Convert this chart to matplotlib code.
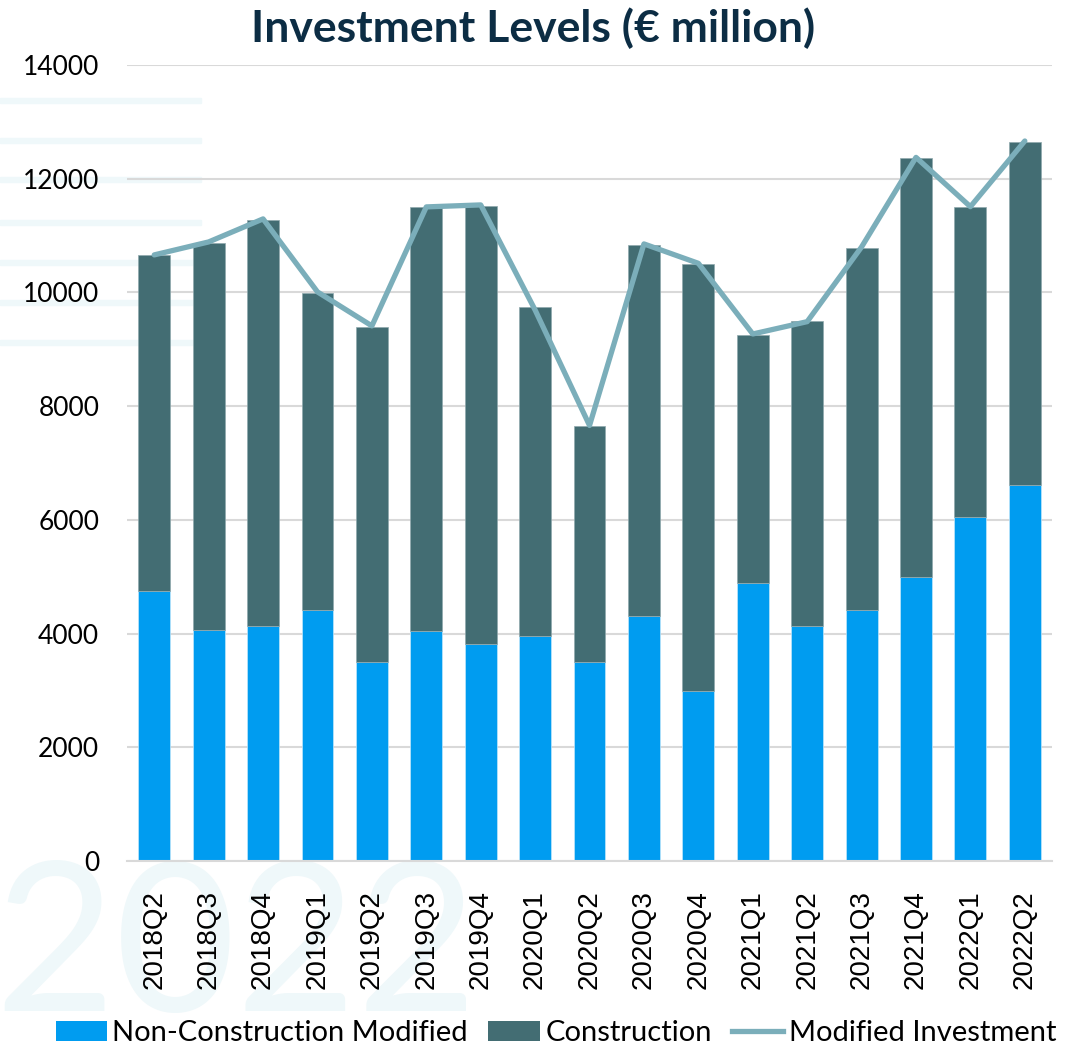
import matplotlib
matplotlib.use("Agg")
import matplotlib.pyplot as plt
from matplotlib.patches import Patch, Rectangle
from matplotlib.lines import Line2D

# Quarterly investment, EUR million
quarters = [
    "2018Q2", "2018Q3", "2018Q4", "2019Q1", "2019Q2", "2019Q3", "2019Q4",
    "2020Q1", "2020Q2", "2020Q3", "2020Q4", "2021Q1", "2021Q2", "2021Q3",
    "2021Q4", "2022Q1", "2022Q2",
]
non_construction = [4746, 4065, 4130, 4417, 3506, 4044, 3814, 3957, 3494,
                    4303, 2990, 4884, 4133, 4415, 4989, 6050, 6613]
construction = [5904, 6805, 7145, 5574, 5887, 7460, 7707, 5782, 4151,
                6537, 7504, 4367, 5359, 6372, 7370, 5447, 6038]
modified_investment = [10660, 10888, 11293, 10009, 9411, 11504, 11539, 9690,
                       7660, 10853, 10512, 9269, 9486, 10800, 12375, 11508, 12663]
y_ticks = [0, 2000, 4000, 6000, 8000, 10000, 12000, 14000]

BLUE = "#009CF0"
TEAL = "#436D73"
LINE = "#7BAEBA"
GRID = "#D9D9D9"
WATERMARK = "#EFF8FA"

fig = plt.figure(figsize=(10.84, 10.48), dpi=100)
fig.patch.set_facecolor("white")

# faint background emblem
for y_px in [100, 140, 179, 222, 262, 302, 342]:
    fig.patches.append(Rectangle((0.0, 1 - (y_px + 2.5) / 1048), 0.185, 5 / 1048,
                                 transform=fig.transFigure, color=WATERMARK,
                                 zorder=-2))
fig.text(-0.005, 0.035, "2022", fontsize=150, family="Lato",
         color=WATERMARK, ha="left", va="baseline", zorder=-2)

ax = fig.add_axes([0.1172, 0.1784, 0.8533, 0.7596])
ax.set_facecolor("none")
ax.set_zorder(1)

x = range(len(quarters))
ax.bar(x, non_construction, width=0.585, color=BLUE, edgecolor="#BFE6FB",
       linewidth=0.5, zorder=2)
ax.bar(x, construction, width=0.585, bottom=non_construction, color=TEAL,
       edgecolor="#8FA9AD", linewidth=0.5, zorder=2)
ax.plot(x, modified_investment, color=LINE, linewidth=3.8,
        solid_joinstyle="round", solid_capstyle="round", zorder=3)

ax.set_xlim(-0.5, len(quarters) - 0.5)
ax.set_ylim(0, 14000)
ax.set_yticks(y_ticks)
ax.set_yticklabels([str(v) for v in y_ticks], family="Lato", fontsize=19)
ax.set_xticks(list(x))
ax.set_xticklabels(quarters, rotation=90, family="Liberation Sans", fontsize=20)
ax.tick_params(axis="y", length=0, pad=20)
ax.tick_params(axis="x", length=0, pad=21)

ax.grid(axis="y", color=GRID, linewidth=1.5, zorder=0)
ax.set_axisbelow(True)
for side in ["top", "right", "left"]:
    ax.spines[side].set_visible(False)
ax.spines["bottom"].set_color(GRID)
ax.spines["bottom"].set_linewidth(1.5)

fig.text(0.492, 0.973, "Investment Levels (€ million)", family="Lato",
         fontweight="bold", fontsize=32, color="#0C2D44", ha="center", va="center")

handles = [
    Patch(facecolor=BLUE, label="Non-Construction Modified"),
    Patch(facecolor=TEAL, label="Construction"),
    Line2D([], [], color=LINE, linewidth=3.8, label="Modified Investment"),
]
fig.legend(handles=handles, loc="center", bbox_to_anchor=(0.513, 0.014), ncol=3,
           frameon=False, prop={"family": "Lato", "size": 21},
           handlelength=1.75, handleheight=0.65, handletextpad=0.2,
           columnspacing=0.7, borderpad=0)

fig.savefig("out.png", dpi=100)
